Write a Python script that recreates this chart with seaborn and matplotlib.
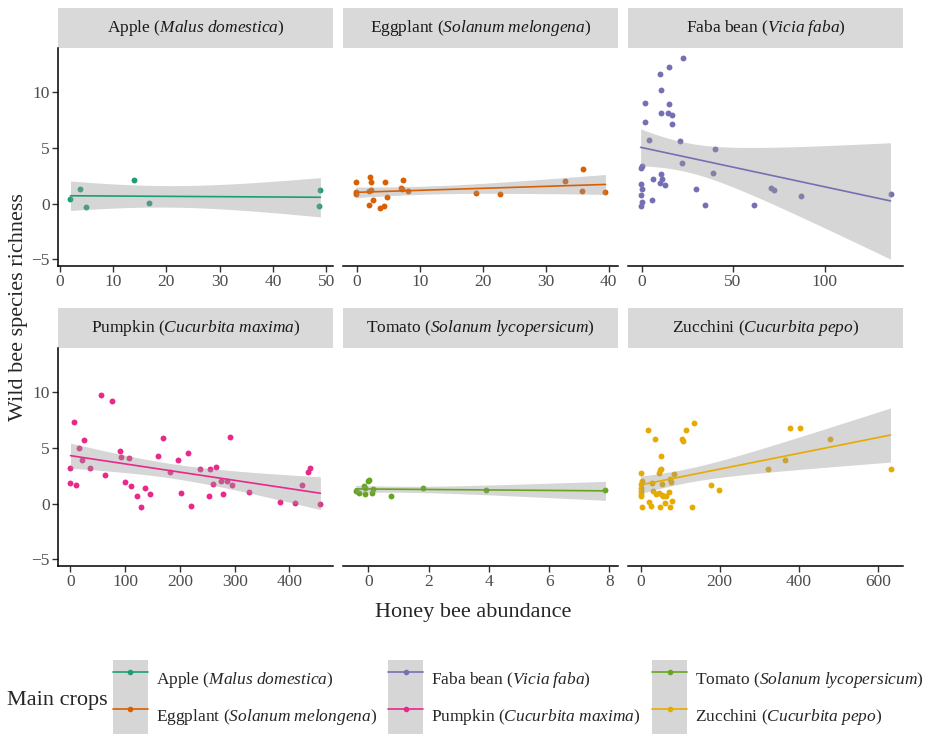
import numpy as np
import matplotlib
matplotlib.use("Agg")
import matplotlib.pyplot as plt
from matplotlib.patches import Rectangle
from matplotlib.lines import Line2D
import seaborn as sns

# crop labels (common name, latin name)
crops = ["Apple", "Eggplant", "Faba bean", "Pumpkin", "Tomato", "Zucchini"]
latin = ["Malus domestica", "Solanum melongena", "Vicia faba",
         "Cucurbita maxima", "Solanum lycopersicum", "Cucurbita pepo"]

# honey bee abundance (x) and wild bee species richness (y)
apple_x = [2.0, 3.8, 4.9, 14.0, 16.7, 48.9, 48.6]
apple_y = [0.4, 1.3, -0.3, 2.15, 0.1, 1.2, -0.2]

eggplant_x = [-0.2, -0.1, -0.1, 2.15, 2.2, 1.94, 2.2, 1.9, 2.64, 3.66,
              4.36, 4.4, 4.8, 6.95, 7.1, 7.3, 8.1, 18.9, 22.7, 33.0,
              35.9, 35.8, 39.5]
eggplant_y = [1.98, 1.02, 0.84, 2.4, 1.95, 1.14, 1.23, -0.15, 0.36, -0.36,
              -0.2, 1.95, 0.63, 1.44, 1.32, 2.13, 1.17, 0.93, 0.9, 2.06,
              3.09, 1.14, 1.02]

faba_x = [22.9, 15.2, 9.9, 10.6, 2.0, 15.2, 10.4, 14.3, 16.8, 1.8,
          16.8, 4.0, 21.0, 40.1, 22.0, 39.3, 0.0, -0.5, 10.8, 6.0,
          11.1, 10.1, 12.8, -0.4, 0.2, -0.4, 29.7, 0.2, -0.4, 5.7,
          34.4, 61.5, 70.5, 72.3, 87.1, 136.0]
faba_y = [13.1, 12.3, 11.65, 10.2, 9.06, 9.0, 8.16, 8.2, 8.0, 7.35,
          7.14, 5.7, 5.64, 4.95, 3.7, 2.8, 3.4, 3.18, 2.64, 2.19,
          2.19, 1.9, 1.68, 1.74, 1.32, 0.77, 1.29, 0.12, -0.2, 0.3,
          -0.1, -0.15, 1.38, 1.26, 0.72, 0.84]

pumpkin_x = [0, 0, 7.3, 10.3, 15.2, 21.3, 25, 36,
             56.2, 63, 75.2, 91, 92.8, 99, 106.3, 111,
             121.5, 129.4, 136.8, 144.7, 160.6, 168.5, 182.6, 196,
             202, 215.4, 220.3, 236.8, 252.7, 254.5, 261.2, 266.7,
             275.2, 278.9, 286.2, 291.1, 296, 326.6, 383.4, 410.3,
             423.1, 433.4, 437.8, 456.7]
pumpkin_y = [3.25, 1.84, 7.32, 1.72, 4.97, 3.97, 5.72, 3.22,
             9.76, 2.62, 9.24, 4.76, 4.16, 1.93, 4.07, 1.6,
             0.7, -0.3, 1.38, 0.87, 4.3, 5.93, 2.83, 3.97,
             0.97, 4.6, -0.18, 3.1, 0.7, 3.1, 1.8, 3.28,
             2.08, 0.87, 2.08, 6.02, 1.66, 1.08, 0.15, 0.09,
             1.69, 2.83, 3.22, 0]

tomato_x = [-0.42, -0.3, -0.14, -0.11, -0.09, -0.01, 0.03, 0.11, 0.16, 0.77,
            1.82, 3.92, 7.87]
tomato_y = [1.15, 1.0, 1.6, 1.38, 0.9, 2.0, 2.17, 0.93, 1.33, 0.66,
            1.38, 1.2, 1.2]

zucchini_x = [0, 2.5, 0, 0, 0, 0, 0, 3.4,
              17.8, 20.3, 25.4, 29.7, 31.2, 35.5, 38.9,
              45.7, 48.2, 50.8, 51.5, 45.7, 48.2,
              54, 55, 57.6, 61.7, 63.5,
              71, 73.6, 75.3, 76.1, 80.4, 83.8,
              104, 107.5, 115, 131.2, 134.5,
              178.5, 198,
              323, 364.8, 378, 404, 478.7, 632]
zucchini_y = [2.77, 2.08, 1.78, 1.45, 1.17, 0.9, 0.66, -0.3,
              6.66, 0.15, -0.24, 1.87, 1.17, 5.84, 0.87,
              2.77, 3.0, 4.3, 3.1, 0.97, -0.27,
              1.8, 0.81, 0.7, 0.09, 0.7,
              1.06, -0.3, 2.26, 1.93, 0.27, 2.71,
              5.84, 5.6, 6.66, -0.27, 7.23,
              1.66, 1.2,
              3.1, 3.95, 6.8, 6.8, 5.78, 3.16]

xs = [apple_x, eggplant_x, faba_x, pumpkin_x, tomato_x, zucchini_x]
ys = [apple_y, eggplant_y, faba_y, pumpkin_y, tomato_y, zucchini_y]

x_ticks = [[0, 10, 20, 30, 40, 50], [0, 10, 20, 30, 40], [0, 50, 100],
           [0, 100, 200, 300, 400], [0, 2, 4, 6, 8], [0, 200, 400, 600]]
y_ticks = [-5, 0, 5, 10]

colors = sns.color_palette("Dark2", 6)

sns.set_theme(style="ticks")
plt.rcParams["font.family"] = ["Liberation Serif", "DejaVu Serif"]
plt.rcParams["mathtext.fontset"] = "custom"
plt.rcParams["mathtext.rm"] = "Liberation Serif"
plt.rcParams["mathtext.it"] = "Liberation Serif:italic"


def label(i):
    return crops[i] + r" ($\mathit{" + latin[i].replace(" ", r"\ ") + r"}$)"


def t975(df):
    try:
        from scipy import stats
        return stats.t.ppf(0.975, df)
    except ImportError:
        return 1.96 + 2.4 / df


fig, axes = plt.subplots(2, 3, figsize=(9.4, 7.34), dpi=100)
fig.subplots_adjust(left=58 / 940, right=903 / 940, top=1 - 48 / 734,
                    bottom=1 - 566 / 734, hspace=0.376, wspace=0.037)

strip_h = 40 / 218
for i, ax in enumerate(axes.flat):
    x = np.array(xs[i], dtype=float)
    y = np.array(ys[i], dtype=float)
    sns.regplot(x=x, y=y, ax=ax, ci=None, color=colors[i],
                scatter_kws=dict(s=18, linewidths=0, alpha=1, zorder=2),
                line_kws=dict(lw=1.2, zorder=4))

    # 95% confidence band of the linear fit (like geom_smooth(method="lm"))
    n = len(x)
    b, a = np.polyfit(x, y, 1)
    resid = y - (a + b * x)
    s = np.sqrt(np.sum(resid ** 2) / (n - 2))
    grid = np.linspace(x.min(), x.max(), 100)
    se = s * np.sqrt(1 / n + (grid - x.mean()) ** 2 / np.sum((x - x.mean()) ** 2))
    tq = t975(n - 2)
    fit = a + b * grid
    ax.fill_between(grid, fit - tq * se, fit + tq * se, color="#999999",
                    alpha=0.4, linewidth=0, zorder=3)

    ax.set_ylim(-5.6, 14.0)
    ax.set_xticks(x_ticks[i])
    ax.set_yticks(y_ticks)
    ax.set_xlabel("")
    ax.set_ylabel("")
    ax.tick_params(labelsize=12.5, labelcolor="#4D4D4D", color="#333333",
                   length=4, width=1, pad=2)
    ax.spines["top"].set_visible(False)
    ax.spines["right"].set_visible(False)
    ax.spines["bottom"].set_color("black")
    ax.spines["bottom"].set_linewidth(1.1)
    if i % 3 == 0:
        ax.spines["left"].set_color("black")
        ax.spines["left"].set_linewidth(1.1)
    else:
        ax.spines["left"].set_visible(False)
        ax.tick_params(axis="y", left=False, labelleft=False)

    ax.add_patch(Rectangle((0, 1), 1, strip_h, transform=ax.transAxes,
                           facecolor="#D9D9D9", edgecolor="none", clip_on=False))
    ax.text(0.5, 1 + strip_h / 2, label(i), transform=ax.transAxes,
            ha="center", va="center", fontsize=12.5, color="#1A1A1A")

fig.text(473 / 940, 1 - 612 / 734, "Honey bee abundance", ha="center",
         va="center", fontsize=16)
fig.text(19 / 940, 1 - 307 / 734, "Wild bee species richness", ha="center",
         va="center", rotation=90, fontsize=16)

# legend at the bottom
handles = []
for i in range(6):
    box = Rectangle((0, 0), 1, 1, facecolor="#D6D6D6", edgecolor="none")
    ln = Line2D([0], [0], color=colors[i], lw=1.2, marker="o", markersize=3)
    handles.append((box, ln))
fig.text(57 / 940, 1 - 700 / 734, "Main crops", ha="center", va="center",
         fontsize=16)
fig.legend(handles, [label(i) for i in range(6)], ncol=3, frameon=False,
           loc="upper left", bbox_to_anchor=(113 / 940, 1 - 660 / 734),
           borderpad=0, borderaxespad=0, fontsize=12.5, handlelength=2.0,
           handleheight=2.95, labelspacing=0.0, handletextpad=0.45,
           columnspacing=0.68)

fig.savefig("out.png", dpi=100)
